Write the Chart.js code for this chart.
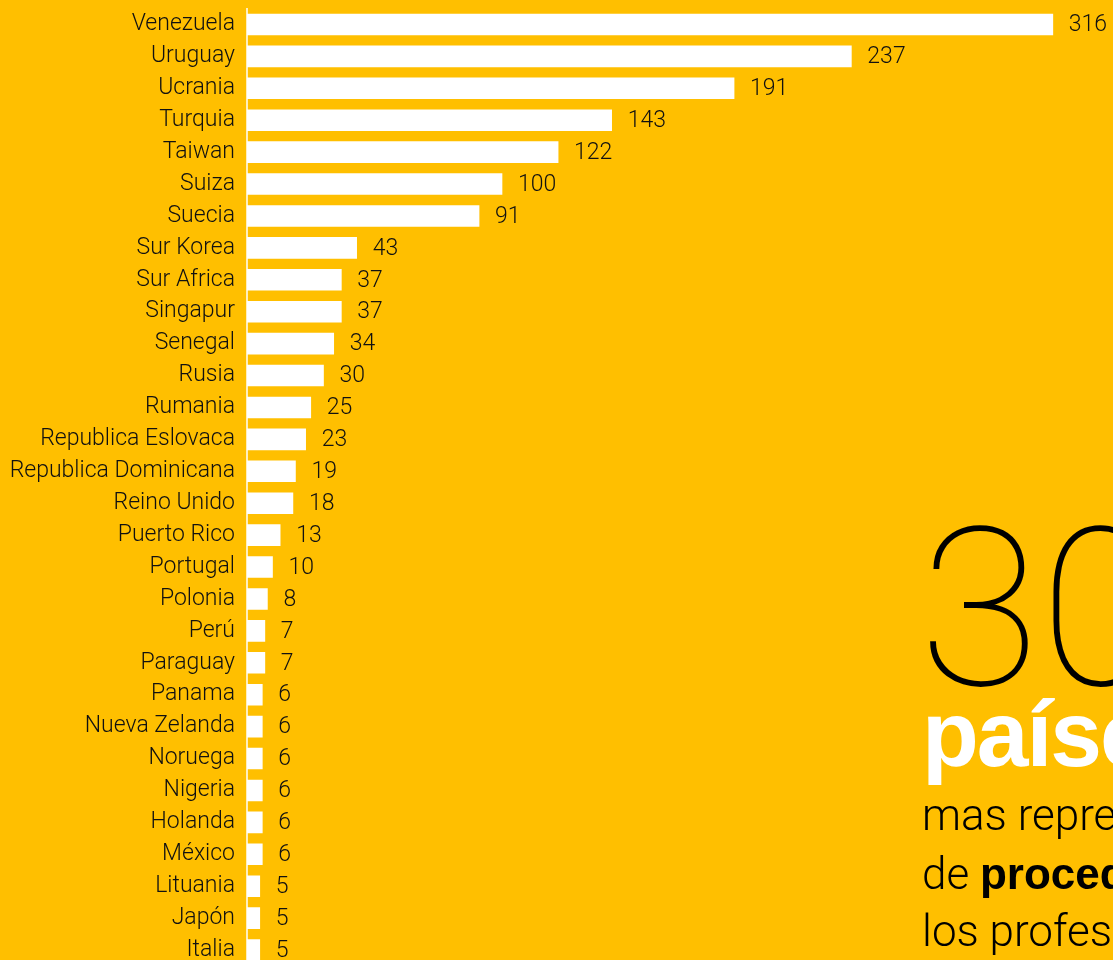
<!DOCTYPE html>
<html>
<head>
<meta charset="utf-8">
<script src="https://cdn.jsdelivr.net/npm/chart.js@4"></script>
<style>
  html, body { margin: 0; padding: 0; }
  body { width: 1113px; height: 960px; overflow: hidden; background: #FFBF00; position: relative; }
  #wrap { position: absolute; left: 0; top: 0; width: 1113px; height: 966px; }
  .big { position: absolute; white-space: nowrap; }
  #num { left: 919px; top: 499px; font: 100 221px/1 Roboto, sans-serif; color: #000; }
  #paises { left: 922px; top: 688px; font: 700 93px/1 "Liberation Sans", Arial, sans-serif; letter-spacing: -2px; color: #fff; }
  #sub { left: 922px; top: 787px; font: 300 44px/57.5px Roboto, sans-serif; color: #000; }
  #sub b { font-family: "Liberation Sans", Arial, sans-serif; font-weight: 700; }
</style>
</head>
<body>
<div id="wrap"><canvas id="chart" width="1113" height="966"></canvas></div>
<div class="big" id="num">30</div>
<div class="big" id="paises">países</div>
<div class="big" id="sub">mas representativos<br>de <b>procedencia</b> de<br>los profesionales</div>
<script>
// data
const countries = ['Venezuela', 'Uruguay', 'Ucrania', 'Turquia', 'Taiwan', 'Suiza', 'Suecia',
  'Sur Korea', 'Sur Africa', 'Singapur', 'Senegal', 'Rusia', 'Rumania', 'Republica Eslovaca',
  'Republica Dominicana', 'Reino Unido', 'Puerto Rico', 'Portugal', 'Polonia', 'Perú', 'Paraguay',
  'Panama', 'Nueva Zelanda', 'Noruega', 'Nigeria', 'Holanda', 'México', 'Lituania', 'Japón', 'Italia'];
const professionals = [316, 237, 191, 143, 122, 100, 91, 43, 37, 37, 34, 30, 25, 23, 19, 18, 13, 10,
  8, 7, 7, 6, 6, 6, 6, 6, 6, 5, 5, 5];

const labelFont = '300 23px Roboto, sans-serif';

// value labels at the end of each bar
const valueLabels = {
  id: 'valueLabels',
  afterDatasetsDraw(chart) {
    const ctx = chart.ctx;
    const meta = chart.getDatasetMeta(0);
    ctx.save();
    ctx.font = labelFont;
    ctx.fillStyle = '#111';
    ctx.textAlign = 'left';
    ctx.textBaseline = 'middle';
    meta.data.forEach((bar, i) => {
      ctx.fillText(String(professionals[i]), bar.x + 16, bar.y + 1);
    });
    ctx.restore();
  }
};

new Chart(document.getElementById('chart'), {
  type: 'bar',
  data: {
    labels: countries,
    datasets: [{
      data: professionals,
      backgroundColor: '#ffffff',
      borderWidth: 0,
      barThickness: 21
    }]
  },
  options: {
    indexAxis: 'y',
    responsive: false,
    animation: false,
    layout: { padding: { top: 8.5, bottom: 0, left: 0, right: 0 } },
    plugins: { legend: { display: false }, tooltip: { enabled: false } },
    scales: {
      x: { display: false, min: 0, max: 339.6 },
      y: {
        afterFit(scale) {
          scale.width = 247;
          scale.paddingTop = 0;
          scale.paddingBottom = 0;
        },
        grid: { display: false, drawTicks: false },
        border: { display: true, color: 'rgba(255,255,255,0.75)', width: 2 },
        ticks: { color: '#111', font: { family: 'Roboto', size: 23, weight: '300' }, padding: 12 }
      }
    }
  },
  plugins: [valueLabels]
});
</script>
</body>
</html>
